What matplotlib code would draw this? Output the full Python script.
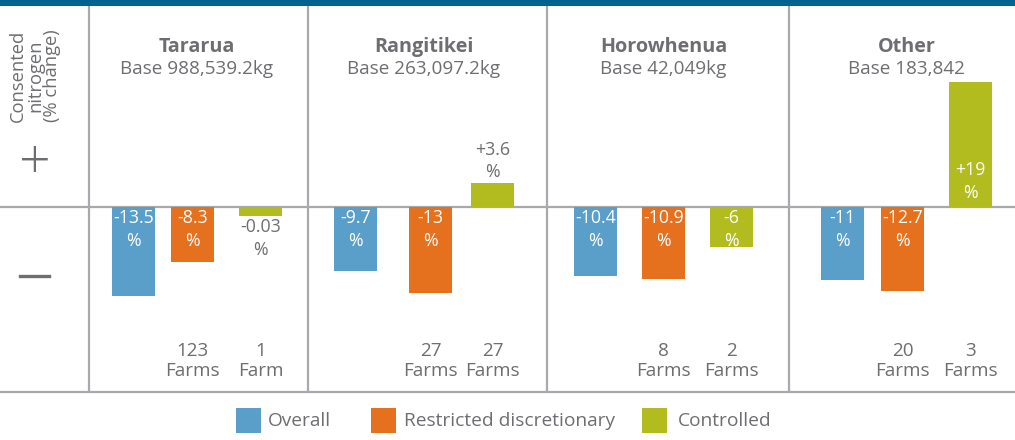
import matplotlib
matplotlib.use("Agg")
import matplotlib.pyplot as plt
from matplotlib.patches import Rectangle
from matplotlib.lines import Line2D

# ---- data ----
regions = ["Tararua", "Rangitikei", "Horowhenua", "Other"]
bases = ["Base 988,539.2kg", "Base 263,097.2kg", "Base 42,049kg", "Base 183,842"]
series = ["Overall", "Restricted discretionary", "Controlled"]
overall = [-13.5, -9.7, -10.4, -11]
restricted = [-8.3, -13, -10.9, -12.7]
controlled = [-0.03, 3.6, -6, 19]
overall_lbl = ["-13.5", "-9.7", "-10.4", "-11"]
restricted_lbl = ["-8.3", "-13", "-10.9", "-12.7"]
controlled_lbl = ["-0.03", "+3.6", "-6", "+19"]
restricted_farms = ["123\nFarms", "27\nFarms", "8\nFarms", "20\nFarms"]
controlled_farms = ["1\nFarm", "27\nFarms", "2\nFarms", "3\nFarms"]

# ---- layout (pixel-based) ----
W, H = 1015, 440
panel_edges = [89, 308, 547, 789]
bar_centers = [
    [133.5, 192.5, 260.5],
    [355.5, 430.5, 492.5],
    [595.5, 663.5, 731.5],
    [842.5, 902.5, 970.5],
]
bar_w = 43
min_vis = 1.4  # minimum drawn bar length so tiny changes stay visible
colors = ["#5a9fc9", "#e5711e", "#b2bc1f"]
gray_txt = "#6d6e71"
line_col = "#a8a9ad"
band_col = "#00628f"

plt.rcParams["font.family"] = ["Open Sans", "DejaVu Sans"]

fig = plt.figure(figsize=(W / 100, H / 100), dpi=100)
top_px, bot_px = 6, 392
ax = fig.add_axes([0, 1 - bot_px / H, 1, (bot_px - top_px) / H])
ymin, ymax = -28, 30.5
ax.set_xlim(0, W)
ax.set_ylim(ymin, ymax)
ax.axis("off")

# top band
fig.add_artist(Rectangle((0, 1 - 6 / H), 1, 6 / H, transform=fig.transFigure,
                         color=band_col, lw=0))
# bottom rule
fig.add_artist(Line2D([0, 1], [1 - bot_px / H] * 2, transform=fig.transFigure,
                      color=line_col, lw=1.6))
# zero line
ax.axhline(0, color=line_col, lw=1.6, zorder=1)
for x in panel_edges:
    ax.axvline(x, color=line_col, lw=1.6, zorder=1)

vals = [overall, restricted, controlled]
lbls = [overall_lbl, restricted_lbl, controlled_lbl]
fs = 12.8
ls = 1.35
for g in range(4):
    for s in range(3):
        v = vals[s][g]
        xc = bar_centers[g][s]
        hv = v if abs(v) >= min_vis else (min_vis if v > 0 else -min_vis)
        ax.bar(xc, hv, width=bar_w, color=colors[s], zorder=2)
        txt = lbls[s][g] + "\n%"
        if v < 0 and abs(v) > 3:
            ax.annotate(txt, (xc, 0), xytext=(0, -1.5), textcoords="offset points",
                        ha="center", va="top", color="white", fontsize=fs,
                        linespacing=ls, zorder=3)
        elif v < 0:
            ax.annotate(txt, (xc, hv), xytext=(0, -1), textcoords="offset points",
                        ha="center", va="top", color=gray_txt, fontsize=fs,
                        linespacing=ls, zorder=3)
        elif v > 10:
            ax.annotate(txt, (xc, 0), xytext=(0, 4), textcoords="offset points",
                        ha="center", va="bottom", color="white", fontsize=fs,
                        linespacing=ls, zorder=3)
        else:
            ax.annotate(txt, (xc, hv), xytext=(0, 1.5), textcoords="offset points",
                        ha="center", va="bottom", color=gray_txt, fontsize=fs,
                        linespacing=ls, zorder=3)
    # farms labels
    for s, flist in ((1, restricted_farms), (2, controlled_farms)):
        ax.text(bar_centers[g][s], -23.3, flist[g], ha="center", va="center",
                color=gray_txt, fontsize=13.6, linespacing=1.1)
    # titles
    tx = (bar_centers[g][0] + bar_centers[g][2]) / 2
    fig.text(tx / W, 1 - 47 / H, regions[g], ha="center", va="center",
             color=gray_txt, fontsize=14.2, fontweight="bold")
    fig.text(tx / W, 1 - 69 / H, bases[g], ha="center", va="center",
             color=gray_txt, fontsize=13.6)

# left column
fig.text(35 / W, 1 - 76 / H, "Consented\nnitrogen\n(% change)", rotation=90,
         ha="center", va="center", color=gray_txt, fontsize=13.2, linespacing=0.95)
fig.text(35 / W, 1 - 164 / H, "+", ha="center", va="center", color=gray_txt,
         fontsize=40, fontweight="light")
fig.add_artist(Line2D([20 / W, 49 / W], [1 - 276 / H] * 2, transform=fig.transFigure,
                      color=gray_txt, lw=2.4))

# legend
leg_sq = [236, 371, 642]
leg_tx = [268, 404, 678]
for i in range(3):
    fig.add_artist(Rectangle((leg_sq[i] / W, 1 - 433 / H), 25 / W, 25 / H,
                             transform=fig.transFigure, color=colors[i], lw=0))
    fig.text(leg_tx[i] / W, 1 - 421 / H, series[i], ha="left", va="center",
             color=gray_txt, fontsize=13.8)

fig.savefig("out.png", dpi=100)
